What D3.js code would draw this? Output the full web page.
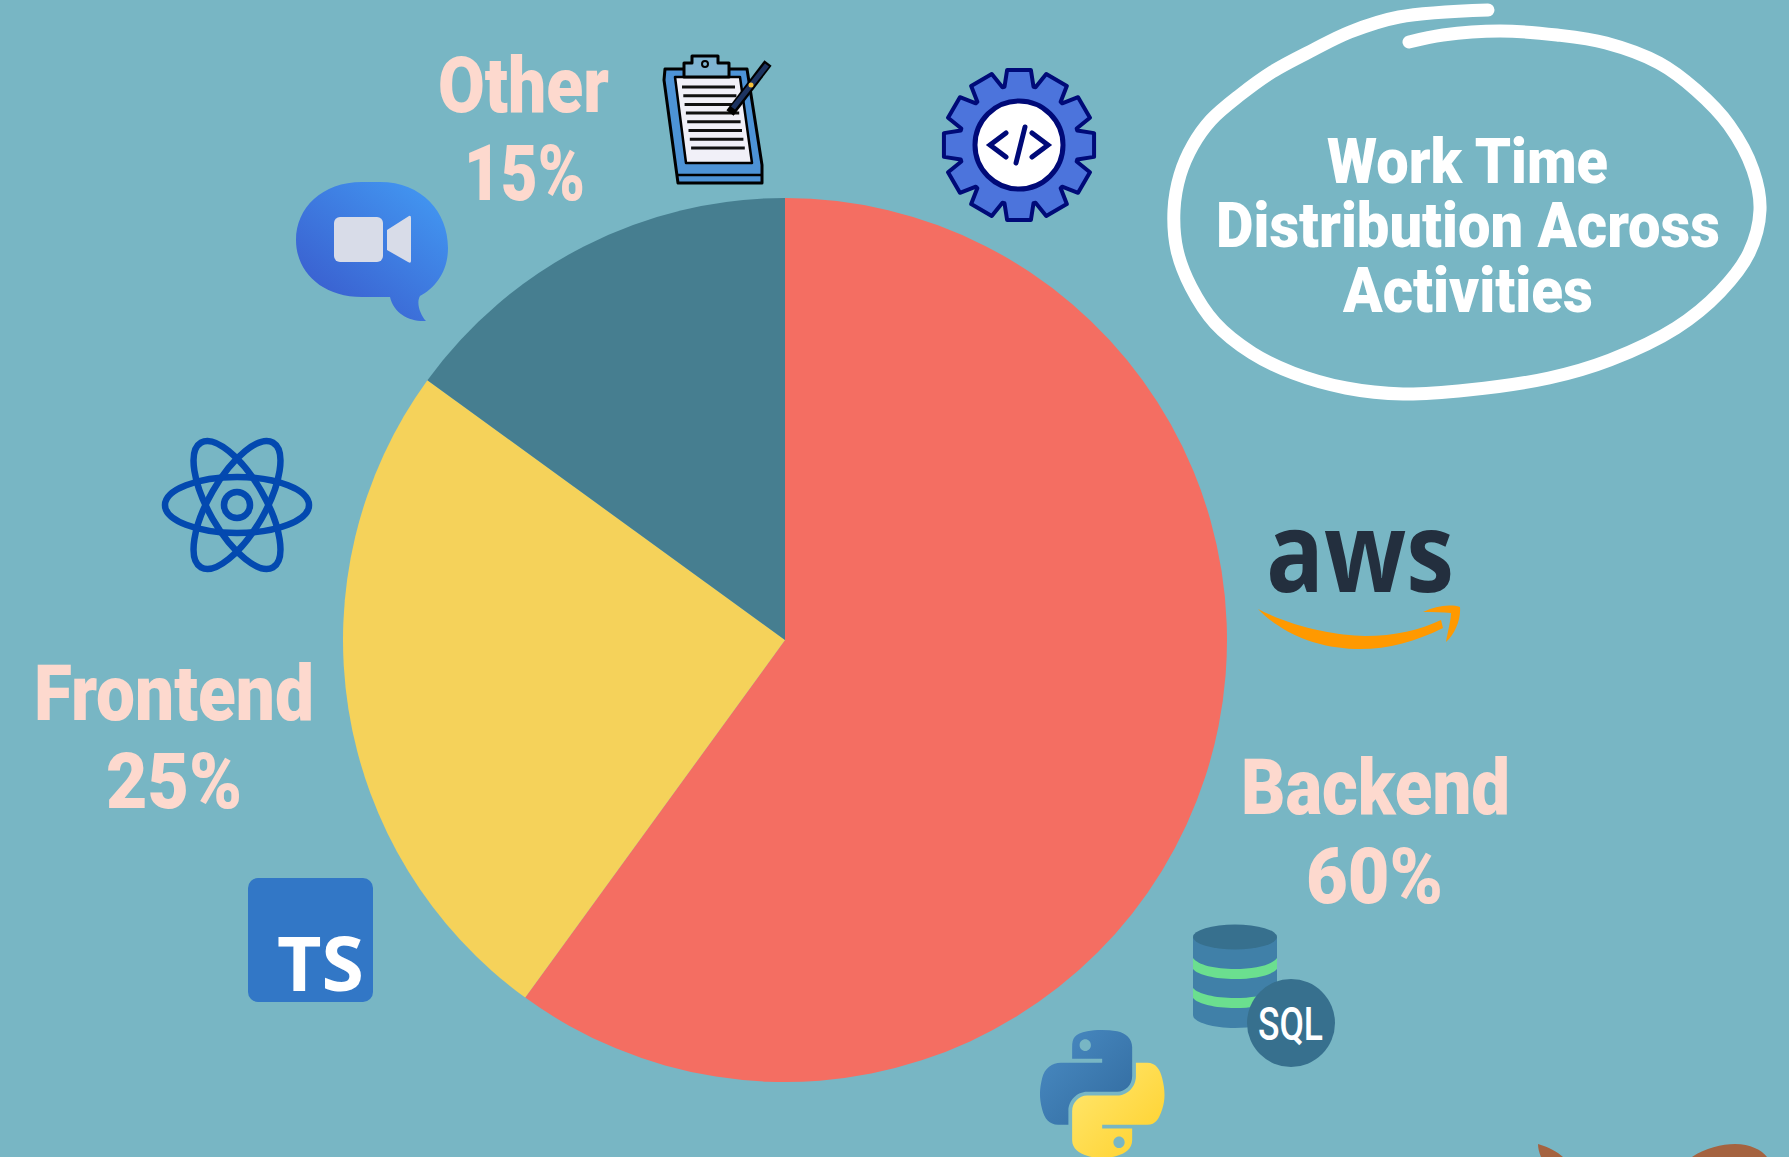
<!DOCTYPE html>
<html>
<head>
<meta charset="utf-8">
<script src="https://cdn.jsdelivr.net/npm/d3@7"></script>
<style>
  body { margin: 0; background: #78B6C4; }
  svg { display: block; }
  text { font-family: Roboto, sans-serif; font-weight: 900; }
</style>
</head>
<body>
<script>
//Data
var categories = ["Backend", "Frontend", "Other"];
var shares = [60, 25, 15];
var sliceColors = ["#F46E62", "#F5D25A", "#467E90"];
var titleLines = ["Work Time", "Distribution Across", "Activities"];

//Width and height
var w = 1789;
var h = 1157;
var cx = 785;
var cy = 640;
var radius = 442;

//Label boxes: [left, right, baseline] for the name and for the percentage
var labelBoxes = [
    [[1241, 1510, 814], [1306, 1443, 903]],
    [[34, 314, 720], [106, 242, 808]],
    [[438, 609, 112], [464, 585, 200]]
];
var titleBoxes = [[1327, 1608, 183], [1216, 1720, 247], [1343, 1593, 312]];

var svg = d3.select("body")
    .append("svg")
    .attr("width", w)
    .attr("height", h);

svg.append("rect")
    .attr("width", w)
    .attr("height", h)
    .attr("fill", "#78B6C4");

var defs = svg.append("defs");

function gradient(id, x1, y1, x2, y2, from, to) {
    var g = defs.append("linearGradient").attr("id", id)
        .attr("x1", x1).attr("y1", y1).attr("x2", x2).attr("y2", y2);
    g.append("stop").attr("offset", "0%").attr("stop-color", from);
    g.append("stop").attr("offset", "100%").attr("stop-color", to);
}
gradient("meetFill", 0.9, 0.1, 0.2, 0.9, "#4295F0", "#3A5FCF");
gradient("pyBlue", 0, 0, 1, 1, "#4A8CC4", "#316A9E");
gradient("pyYellow", 0, 0, 1, 1, "#FFE873", "#FFD029");

//Pie
var pie = d3.pie().sort(null).startAngle(0).endAngle(2 * Math.PI);
var arc = d3.arc().innerRadius(0).outerRadius(radius);

svg.append("g")
    .attr("transform", "translate(" + cx + "," + cy + ")")
    .selectAll("path")
    .data(pie(shares))
    .enter()
    .append("path")
    .attr("d", arc)
    .attr("fill", function(d, i) { return sliceColors[i]; });

//Fitted text helper, the original face is condensed
function fitted(parent, str, box, size, color) {
    return parent.append("text")
        .attr("x", box[0])
        .attr("y", box[2])
        .attr("textLength", box[1] - box[0])
        .attr("lengthAdjust", "spacingAndGlyphs")
        .attr("font-size", size)
        .attr("fill", color)
        .text(str);
}

//Labels
categories.forEach(function(c, i) {
    fitted(svg, c, labelBoxes[i][0], 77, "#FDD9CE");
    fitted(svg, shares[i] + "%", labelBoxes[i][1], 77, "#FDD9CE");
});

//Title and its hand drawn ring
titleLines.forEach(function(t, i) {
    fitted(svg, t, titleBoxes[i], 63, "#FFFFFF");
});

var ringPoints = [[1488, 10], [1399, 17], [1350, 32], [1313, 50], [1272, 72], [1240, 95],
    [1211, 120], [1193, 145], [1180, 175], [1174, 210], [1177, 250], [1191, 287],
    [1215, 323], [1252, 353], [1293, 373], [1346, 388], [1403, 394], [1468, 390],
    [1549, 378], [1610, 360], [1676, 328], [1720, 292], [1749, 253], [1760, 210],
    [1753, 170], [1729, 125], [1696, 90], [1659, 63], [1606, 43], [1557, 35],
    [1500, 31], [1443, 35], [1409, 42]];

svg.append("path")
    .attr("d", d3.line().curve(d3.curveCatmullRom)(ringPoints))
    .attr("fill", "none")
    .attr("stroke", "#FFFFFF")
    .attr("stroke-width", 13)
    .attr("stroke-linecap", "round");

//Meet icon
var meet = svg.append("g");
meet.append("path")
    .attr("d", "M362,182 H380 C422,182 448,212 448,248 C448,272 435,288 420,296 C416,303 420,314 426,321 C410,322 394,314 390,297 H362 C322,297 296,272 296,240 C296,208 322,182 362,182Z")
    .attr("fill", "url(#meetFill)");
meet.append("rect")
    .attr("x", 334).attr("y", 217).attr("width", 49).attr("height", 45).attr("rx", 6)
    .attr("fill", "#D8DCE8");
meet.append("path")
    .attr("d", "M387,230 L409,216 Q411,215 411,218 V261 Q411,264 408,262 L387,250Z")
    .attr("fill", "#D8DCE8");

//Clipboard
var clip = svg.append("g").attr("stroke", "#000").attr("stroke-linejoin", "round");
clip.append("path")
    .attr("d", "M664,80 L665,69 H747 L762,165 V183 H678Z")
    .attr("fill", "#4D93D6").attr("stroke-width", 3);
clip.append("path")
    .attr("d", "M677,175 H762")
    .attr("stroke-width", 2.5);
clip.append("path")
    .attr("d", "M675,77 H740 L752,163 H686Z")
    .attr("fill", "#F1F0F8").attr("stroke-width", 2.5);
clip.append("path")
    .attr("d", "M684,77 V63 H692 V56 H718 V63 H729 V77Z")
    .attr("fill", "#7FB4D2").attr("stroke-width", 3);
clip.append("circle")
    .attr("cx", 705).attr("cy", 64).attr("r", 3)
    .attr("fill", "none").attr("stroke-width", 2);
d3.range(8).forEach(function(i) {
    clip.append("line")
        .attr("x1", 682 + i * 1.3).attr("x2", 735 + i * 1.4)
        .attr("y1", 87 + i * 8.7).attr("y2", 87 + i * 8.7)
        .attr("stroke", "#111").attr("stroke-width", 3);
});
clip.append("line")
    .attr("x1", 730).attr("y1", 113).attr("x2", 768).attr("y2", 63)
    .attr("stroke-width", 9);
clip.append("line")
    .attr("x1", 733).attr("y1", 108).attr("x2", 767).attr("y2", 65)
    .attr("stroke", "#1D3461").attr("stroke-width", 5);
clip.append("circle")
    .attr("cx", 751).attr("cy", 85).attr("r", 2.5)
    .attr("fill", "#F6C13A").attr("stroke", "none");

//Gear
var gearPoints = [];
d3.range(12).forEach(function(i) {
    var a = i * 30;
    [[60, a - 14], [76, a - 9], [76, a + 9], [60, a + 14]].forEach(function(p) {
        var t = p[1] * Math.PI / 180;
        gearPoints.push([1019 + p[0] * Math.sin(t), 145 - p[0] * Math.cos(t)]);
    });
});
var gear = svg.append("g");
gear.append("path")
    .attr("d", d3.line()(gearPoints) + "Z")
    .attr("fill", "#4C74DC")
    .attr("stroke", "#000A78")
    .attr("stroke-width", 4)
    .attr("stroke-linejoin", "round");
gear.append("circle")
    .attr("cx", 1019).attr("cy", 145).attr("r", 44)
    .attr("fill", "#FFFFFF")
    .attr("stroke", "#000A78")
    .attr("stroke-width", 5);
gear.append("path")
    .attr("d", "M1006,133 L990,145 L1006,157 M1032,133 L1048,145 L1032,157 M1025,127 L1016,163")
    .attr("fill", "none")
    .attr("stroke", "#000A78")
    .attr("stroke-width", 5)
    .attr("stroke-linecap", "round");

//AWS
svg.append("text")
    .attr("x", 1266).attr("y", 592)
    .attr("textLength", 188)
    .attr("lengthAdjust", "spacingAndGlyphs")
    .attr("font-size", 112)
    .style("font-family", "'Open Sans', sans-serif")
    .style("font-weight", 700)
    .attr("fill", "#232F3E")
    .text("aws");
svg.append("path")
    .attr("d", "M1258,609 C1295,628 1335,635 1365,636 C1395,636 1420,630 1441,620 L1443,628 C1415,642 1385,650 1355,649 C1315,648 1280,632 1258,609Z M1423,612 C1435,606 1450,604 1460,607 C1461,620 1455,634 1446,642 C1448,630 1451,620 1451,613 C1443,612 1433,612 1423,612Z")
    .attr("fill", "#FF9900");

//React
var react = svg.append("g").attr("transform", "translate(237,505)");
[0, 60, -60].forEach(function(r) {
    react.append("ellipse")
        .attr("rx", 72).attr("ry", 28)
        .attr("transform", "rotate(" + r + ")")
        .attr("fill", "none")
        .attr("stroke", "#0349B0")
        .attr("stroke-width", 6.5);
});
react.append("circle")
    .attr("r", 13)
    .attr("fill", "none")
    .attr("stroke", "#0349B0")
    .attr("stroke-width", 6.5);

//TypeScript
svg.append("rect")
    .attr("x", 248).attr("y", 878).attr("width", 125).attr("height", 124).attr("rx", 10)
    .attr("fill", "#3277C6");
fitted(svg, "TS", [277, 364, 991], 76, "#FFFFFF")
    .style("font-family", "'Open Sans', sans-serif")
    .style("font-weight", 700);

//Database
var db = svg.append("g");
db.append("path")
    .attr("d", "M1193,937 V1015 C1193,1022 1212,1028 1235,1028 C1258,1028 1277,1022 1277,1015 V937Z")
    .attr("fill", "#4080A8");
db.append("path")
    .attr("d", "M1193,958 C1198,965 1215,969 1235,969 C1255,969 1272,965 1277,958 V969 C1272,975 1255,979 1235,979 C1215,979 1198,975 1193,969Z M1193,988 C1198,994 1215,998 1235,998 C1255,998 1272,994 1277,988 V998 C1272,1004 1255,1008 1235,1008 C1215,1008 1198,1004 1193,998Z")
    .attr("fill", "#6BDF8F");
db.append("ellipse")
    .attr("cx", 1235).attr("cy", 937).attr("rx", 42).attr("ry", 12.5)
    .attr("fill", "#37708E");
db.append("circle")
    .attr("cx", 1291).attr("cy", 1023).attr("r", 44)
    .attr("fill", "#37708E");
fitted(db, "SQL", [1258, 1323, 1040], 46, "#FFFFFF").style("font-weight", 500);

//Python
var py = svg.append("g").attr("transform", "translate(1040,1030) scale(1.12,1.14)");
py.append("path")
    .attr("fill-rule", "evenodd")
    .attr("fill", "url(#pyBlue)")
    .attr("d", "M54.919 0c-4.584.022-8.961.413-12.813 1.095C30.76 3.099 28.7 7.295 28.7 15.032v10.219h26.813v3.406H28.7 18.638c-7.793 0-14.616 4.684-16.75 13.594-2.462 10.213-2.571 16.586 0 27.25 1.906 7.938 6.457 13.594 14.25 13.594h9.219v-12.25c0-8.85 7.657-16.656 16.75-16.656h26.781c7.454 0 13.406-6.138 13.406-13.625V15.032c0-7.266-6.13-12.725-13.406-13.937C64.282.328 59.502-.02 54.919 0zM40.419 8.219c2.77 0 5.031 2.299 5.031 5.125 0 2.816-2.262 5.094-5.031 5.094-2.779 0-5.031-2.277-5.031-5.094 0-2.826 2.252-5.125 5.031-5.125z");
py.append("path")
    .attr("fill-rule", "evenodd")
    .attr("fill", "url(#pyYellow)")
    .attr("d", "M85.638 28.657v11.906c0 9.231-7.826 17-16.75 17H42.106c-7.336 0-13.406 6.278-13.406 13.625v25.531c0 7.266 6.319 11.54 13.406 13.625 8.487 2.496 16.626 2.947 26.781 0 6.75-1.954 13.406-5.888 13.406-13.625V86.5H55.513v-3.405H95.7c7.793 0 10.696-5.436 13.406-13.594 2.8-8.399 2.68-16.476 0-27.25-1.927-7.758-5.604-13.594-13.406-13.594zM70.575 93.313c2.78 0 5.031 2.277 5.031 5.094 0 2.826-2.252 5.125-5.031 5.125-2.77 0-5.031-2.299-5.031-5.125 0-2.816 2.262-5.094 5.031-5.094z");

//Brown shape cut off at the bottom edge
svg.append("path")
    .attr("d", "M1538,1144 C1548,1147 1558,1152 1563,1157 H1541 C1539,1152 1538,1148 1538,1144Z M1692,1157 C1705,1148 1722,1144 1735,1144 C1750,1144 1762,1150 1767,1157Z")
    .attr("fill", "#A56340");
</script>
</body>
</html>
